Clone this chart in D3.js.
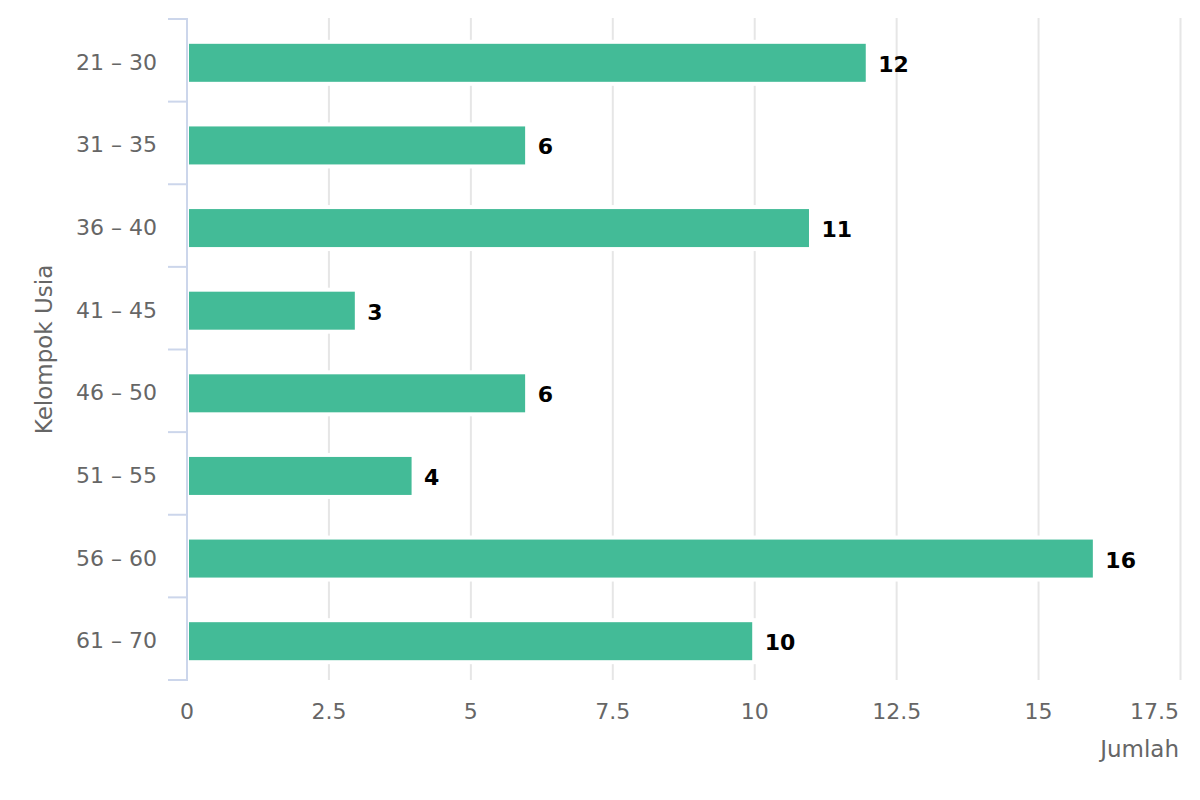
<!DOCTYPE html>
<html><head><meta charset="utf-8">
<script src="https://cdn.jsdelivr.net/npm/d3@7"></script>
<style>
html,body{margin:0;padding:0;background:#fff;}
text{font-family:"DejaVu Sans",Verdana,sans-serif;}
</style></head>
<body>
<svg id="chart" width="1200" height="800"></svg>
<script>
const categories = ["21 – 30","31 – 35","36 – 40","41 – 45","46 – 50","51 – 55","56 – 60","61 – 70"];
const values = [12, 6, 11, 3, 6, 4, 16, 10];
const xTicks = [0, 2.5, 5, 7.5, 10, 12.5, 15, 17.5];
const xTitle = "Jumlah";
const yTitle = "Kelompok Usia";

const svg = d3.select("#chart");
const plotLeft = 187, plotRight = 1180.5, plotTop = 19, plotBottom = 680;

const x = d3.scaleLinear().domain([0, 17.5]).range([plotLeft, plotRight]);
const y = d3.scaleBand().domain(categories).range([plotTop, plotBottom]);

// gridlines
svg.append("g").selectAll("line").data(xTicks.filter(d => d > 0)).join("line")
  .attr("x1", d => x(d)).attr("x2", d => x(d))
  .attr("y1", plotTop - 1).attr("y2", plotBottom)
  .attr("stroke", "#e6e6e6").attr("stroke-width", 2);

// bars
const barH = 42;
svg.append("g").selectAll("rect").data(values).join("rect")
  .attr("x", x(0))
  .attr("y", (d, i) => y(categories[i]) + y.bandwidth() / 2 + 2.5 - barH / 2)
  .attr("width", d => x(d) - x(0) - 0.5)
  .attr("height", barH)
  .attr("fill", "#43bb97")
  .attr("stroke", "#fff").attr("stroke-width", 4);

// y axis line and ticks
const axisColor = "#ccd6eb";
svg.append("line").attr("x1", plotLeft).attr("x2", plotLeft).attr("y1", plotTop - 1).attr("y2", plotBottom + 1)
  .attr("stroke", axisColor).attr("stroke-width", 2);
const yTickPos = categories.map(c => y(c)).concat([plotBottom]);
svg.append("g").selectAll("line").data(yTickPos).join("line")
  .attr("x1", 168).attr("x2", plotLeft).attr("y1", d => d).attr("y2", d => d)
  .attr("stroke", axisColor).attr("stroke-width", 2);

// y labels
svg.append("g").selectAll("text").data(categories).join("text")
  .attr("x", 157).attr("y", d => y(d) + y.bandwidth() / 2 + 2)
  .attr("text-anchor", "end").attr("dominant-baseline", "central")
  .attr("font-size", 22).attr("fill", "#666666").text(d => d);

// x labels
svg.append("g").selectAll("text").data(xTicks).join("text")
  .attr("x", d => d === 17.5 ? 1179 : x(d))
  .attr("y", 719)
  .attr("text-anchor", d => d === 17.5 ? "end" : "middle")
  .attr("font-size", 22).attr("fill", "#666666").text(d => d);

// data labels
svg.append("g").selectAll("text").data(values).join("text")
  .attr("x", d => x(d) + 10)
  .attr("y", (d, i) => y(categories[i]) + y.bandwidth() / 2 + 4)
  .attr("dominant-baseline", "central")
  .attr("font-size", 22).attr("font-weight", "bold").attr("fill", "#000").text(d => d);

// axis titles
svg.append("text").attr("x", 1179).attr("y", 757).attr("text-anchor", "end")
  .attr("font-size", 23).attr("fill", "#666666").text(xTitle);
svg.append("text").attr("transform", "translate(52," + ((plotTop + plotBottom) / 2) + ") rotate(-90)")
  .attr("text-anchor", "middle")
  .attr("font-size", 23).attr("fill", "#666666").text(yTitle);
</script>
</body></html>
